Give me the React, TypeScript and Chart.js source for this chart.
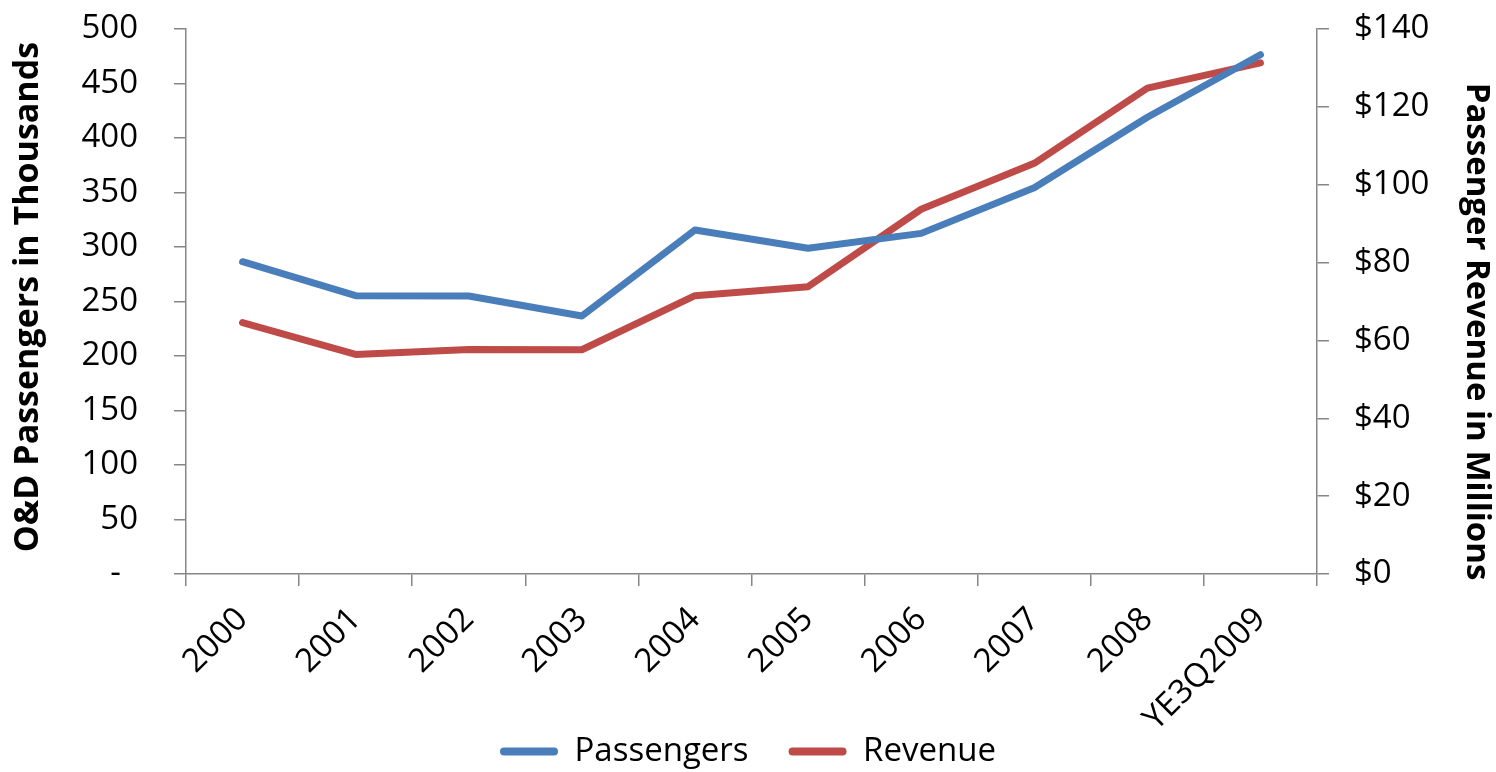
import React, { useEffect, useRef } from "react";
import { Chart, registerables } from "chart.js";

Chart.register(...registerables);

const categories = ["2000", "2001", "2002", "2003", "2004", "2005", "2006", "2007", "2008", "YE3Q2009"];
const passengers = [286.5, 255.3, 255, 236.7, 315.6, 298.8, 312.5, 354.4, 419, 476.4];
const revenue = [64.6, 56.4, 57.7, 57.6, 71.5, 73.8, 93.7, 105.5, 124.8, 131.3];
const leftTitle = "\u00A0O&D Passengers in Thousands";
const rightTitle = "\u00A0\u00A0\u00A0\u00A0\u00A0\u00A0\u00A0Passenger Revenue in Millions";

const FONT = '"Open Sans", Lato, "Noto Sans", sans-serif';
const AXIS = "#868686";
const BLUE = "#4A7EBB";
const RED = "#BE4B48";

// lets the rotated category labels extend below the x-axis box (over the legend band)
const unclipXLabels = {
  id: "unclipXLabels",
  afterLayout(chart: any) {
    const x = chart.scales.x;
    if (x) x.bottom = chart.height;
  },
};

export default function App() {
  const ref = useRef<HTMLCanvasElement | null>(null);

  useEffect(() => {
    if (!ref.current) return;
    const chart = new Chart(ref.current, {
      type: "line",
      plugins: [unclipXLabels],
      data: {
        labels: categories,
        datasets: [
          {
            label: "Passengers",
            data: passengers,
            yAxisID: "y",
            borderColor: BLUE,
            backgroundColor: BLUE,
            borderWidth: 7,
            pointRadius: 0,
            borderCapStyle: "round",
            borderJoinStyle: "round",
            tension: 0,
          },
          {
            label: "Revenue",
            data: revenue,
            yAxisID: "y1",
            borderColor: RED,
            backgroundColor: RED,
            borderWidth: 7,
            pointRadius: 0,
            borderCapStyle: "round",
            borderJoinStyle: "round",
            tension: 0,
          },
        ],
      },
      options: {
        responsive: false,
        animation: false,
        layout: { padding: { top: 29, left: 0, right: 0, bottom: -6 } },
        plugins: {
          tooltip: { enabled: false },
          legend: {
            position: "bottom",
            labels: {
              font: { family: FONT, size: 33 },
              color: "#000",
              boxWidth: 58,
              boxHeight: 8,
              padding: 40,
              useBorderRadius: true,
              borderRadius: 4,
              generateLabels: (c: any) =>
                (Chart.defaults.plugins.legend.labels.generateLabels as any)(c).map((l: any) => ({
                  ...l,
                  lineWidth: 0,
                  fillStyle: l.strokeStyle,
                })),
            },
          },
        },
        scales: {
          x: {
            offset: true,
            grid: {
              offset: true,
              drawOnChartArea: false,
              drawTicks: true,
              tickLength: 12,
              color: AXIS,
              lineWidth: 1.5,
            },
            border: { color: AXIS, width: 1.5 },
            ticks: {
              font: { family: FONT, size: 33 },
              color: "#000",
              maxRotation: 45,
              minRotation: 45,
              padding: 14,
              autoSkip: false,
            },
            afterFit: (s: any) => {
              s.height = 121;
            },
          },
          y: {
            position: "left",
            min: 0,
            max: 500,
            grid: {
              drawOnChartArea: false,
              drawTicks: true,
              tickLength: 12,
              color: AXIS,
              lineWidth: 1.5,
            },
            border: { color: AXIS, width: 1.5 },
            ticks: {
              stepSize: 50,
              font: { family: FONT, size: 33 },
              color: "#000",
              padding: 36,
              callback: (v: any) => (Number(v) === 0 ? "-  " : String(v)),
            },
            title: {
              display: true,
              text: leftTitle,
              font: { family: FONT, size: 34, weight: "bold" },
              color: "#000",
              padding: { top: 8, bottom: 0 },
            },
            afterFit: (s: any) => {
              s.width = 186;
              s.paddingTop = 0;
              s.paddingBottom = 0;
            },
          },
          y1: {
            position: "right",
            min: 0,
            max: 140,
            grid: {
              drawOnChartArea: false,
              drawTicks: true,
              tickLength: 12,
              color: AXIS,
              lineWidth: 1.5,
            },
            border: { color: AXIS, width: 1.5 },
            ticks: {
              stepSize: 20,
              font: { family: FONT, size: 33 },
              color: "#000",
              padding: 25,
              callback: (v: any) => "$" + v,
            },
            title: {
              display: true,
              text: rightTitle,
              font: { family: FONT, size: 33, weight: "bold" },
              color: "#000",
              padding: { top: 0, bottom: 0 },
            },
            afterFit: (s: any) => {
              s.width = 179;
              s.paddingTop = 0;
              s.paddingBottom = 0;
            },
          },
        },
      },
    });
    return () => chart.destroy();
  }, []);

  return (
    <div style={{ position: "fixed", left: 0, top: 0, width: 1496, height: 772, background: "#fff" }}>
      <canvas ref={ref} width={1496} height={772} style={{ display: "block" }} />
    </div>
  );
}
